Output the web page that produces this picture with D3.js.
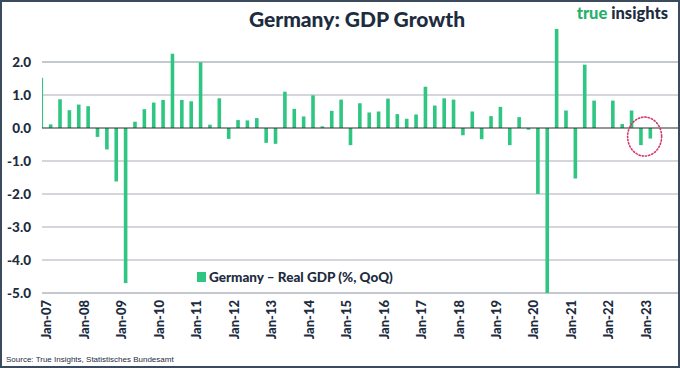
<!DOCTYPE html>
<html><head><meta charset="utf-8">
<script src="https://cdn.jsdelivr.net/npm/d3@7"></script>
<style>
html,body{margin:0;padding:0;background:#fff;}
svg{display:block;font-family:Lato,"Open Sans",sans-serif;}
</style></head>
<body>
<svg id="chart" width="680" height="368"></svg>
<script>
// ---- data ----
const quarters = [
 "2006Q4",
 "2007Q1","2007Q2","2007Q3","2007Q4","2008Q1","2008Q2","2008Q3","2008Q4",
 "2009Q1","2009Q2","2009Q3","2009Q4","2010Q1","2010Q2","2010Q3","2010Q4",
 "2011Q1","2011Q2","2011Q3","2011Q4","2012Q1","2012Q2","2012Q3","2012Q4",
 "2013Q1","2013Q2","2013Q3","2013Q4","2014Q1","2014Q2","2014Q3","2014Q4",
 "2015Q1","2015Q2","2015Q3","2015Q4","2016Q1","2016Q2","2016Q3","2016Q4",
 "2017Q1","2017Q2","2017Q3","2017Q4","2018Q1","2018Q2","2018Q3","2018Q4",
 "2019Q1","2019Q2","2019Q3","2019Q4","2020Q1","2020Q2","2020Q3","2020Q4",
 "2021Q1","2021Q2","2021Q3","2021Q4","2022Q1","2022Q2","2022Q3","2022Q4",
 "2023Q1"
];
const gdpGrowth = [
 1.52,
 0.11, 0.87, 0.54, 0.71,   0.66, -0.27, -0.65, -1.62,
 -4.70, 0.19, 0.57, 0.77,  0.85, 2.25, 0.85, 0.81,
 1.99, 0.10, 0.90, -0.33,  0.24, 0.23, 0.30, -0.45,
 -0.48, 1.10, 0.58, 0.35,  0.99, 0.05, 0.52, 0.86,
 -0.52, 0.75, 0.47, 0.50,  0.89, 0.42, 0.28, 0.41,
 1.25, 0.68, 0.90, 0.86,   -0.22, 0.50, -0.34, 0.36,
 0.64, -0.52, 0.33, -0.05, -2.00, -5.00, 3.00, 0.53,
 -1.53, 1.92, 0.83, 0.00,  0.83, 0.12, 0.53, -0.52,
 -0.32
];
const tickQuarters = ["2007Q1","2008Q1","2009Q1","2010Q1","2011Q1","2012Q1","2013Q1","2014Q1",
  "2015Q1","2016Q1","2017Q1","2018Q1","2019Q1","2020Q1","2021Q1","2022Q1","2023Q1"];
const tickLabels = ["Jan-07","Jan-08","Jan-09","Jan-10","Jan-11","Jan-12","Jan-13","Jan-14",
  "Jan-15","Jan-16","Jan-17","Jan-18","Jan-19","Jan-20","Jan-21","Jan-22","Jan-23"];
const yTicks = [2, 1, 0, -1, -2, -3, -4, -5];
const seriesName = "Germany \u2013 Real GDP (%, QoQ)";
const highlightQuarters = ["2022Q4","2023Q1"];

// ---- layout ----
const W = 680, H = 368;
const plotL = 42, plotR = 678, plotT = 29, plotB = 293;
const navy = "#1d2c3e", green = "#2fc682";

const svg = d3.select("#chart");

const x = d3.scaleBand().domain(quarters).range([36.6, 655.0]).padding(0);
const y = d3.scaleLinear().domain([-5, 3]).range([plotB, plotT]);
const bw = 3.6;

// border
svg.append("rect").attr("x",1).attr("y",1).attr("width",W-2).attr("height",H-2)
  .attr("fill","none").attr("stroke","#3b4b5d").attr("stroke-width",2);

// gridlines
const grid = svg.append("g");
grid.selectAll("line").data(yTicks.filter(d => d !== 0)).join("line")
  .attr("x1", plotL).attr("x2", plotR)
  .attr("y1", d => y(d)).attr("y2", d => y(d))
  .attr("stroke", "#c4c9cf").attr("stroke-width", d => (d === 2 || d === -5) ? 2 : 1.3);

// y labels
const yAxis = d3.axisLeft(y).tickValues(yTicks).tickSize(0).tickPadding(0)
  .tickFormat(d => d3.format(".1f")(d).replace("\u2212","-"));
const gy = svg.append("g").attr("transform", `translate(31,0)`).call(yAxis);
gy.select(".domain").remove();
gy.selectAll("text").attr("fill", navy).attr("font-size", "13.5px").attr("font-weight", 900)
  .attr("font-family","Lato, sans-serif");

// clip
svg.append("clipPath").attr("id","plotclip").append("rect")
  .attr("x", plotL).attr("y", plotT-1).attr("width", plotR-plotL).attr("height", plotB-plotT+2);

// bars
svg.append("g").attr("clip-path","url(#plotclip)")
  .selectAll("rect").data(quarters.map((q,i)=>({q, v: gdpGrowth[i]}))).join("rect")
  .attr("x", d => x(d.q) + x.bandwidth()/2 - bw/2)
  .attr("width", bw)
  .attr("y", d => y(Math.max(0, d.v)))
  .attr("height", d => Math.abs(y(d.v) - y(0)))
  .attr("fill", green);

// zero line
svg.append("line").attr("x1", plotL).attr("x2", plotR)
  .attr("y1", y(0)).attr("y2", y(0)).attr("stroke", "#2a2f35").attr("stroke-width", 1.2);

// x axis labels
const xAxis = d3.axisBottom(x).tickValues(tickQuarters).tickSize(0).tickPadding(0)
  .tickFormat(q => tickLabels[tickQuarters.indexOf(q)]);
const gx = svg.append("g").attr("transform", `translate(${-x.bandwidth()/2 + 0.6},${plotB + 5})`).call(xAxis);
gx.select(".domain").remove();
gx.selectAll("text")
  .attr("transform","rotate(-90)")
  .attr("text-anchor","end")
  .attr("x", -2).attr("y", 0).attr("dy","0.36em")
  .attr("fill", navy).attr("font-size","13px").attr("font-weight",900)
  .attr("font-family","Lato, sans-serif");

// highlight circle around the last two quarters
const hx = (x(highlightQuarters[0]) + x(highlightQuarters[1]) + x.bandwidth())/2;
svg.append("ellipse").attr("cx", hx - 1).attr("cy", y(-0.26)).attr("rx", 17).attr("ry", 19.5)
  .attr("fill","none").attr("stroke","#d8366b").attr("stroke-width",1.6)
  .attr("stroke-dasharray","1.3 2").attr("stroke-linecap","round");

// title
svg.append("text").attr("x", 357).attr("y", 27).attr("text-anchor","middle")
  .attr("font-size","21px").attr("font-weight",900).attr("fill", navy)
  .attr("font-family","Lato, sans-serif")
  .text("Germany: GDP Growth");

// logo
const logo = svg.append("text").attr("x", 668).attr("y", 19).attr("text-anchor","end")
  .attr("font-size","16.5px").attr("font-weight",900).attr("font-family","Lato, sans-serif");
logo.append("tspan").attr("fill","#27b06c").text("true ");
logo.append("tspan").attr("fill", navy).text("insights");

// legend
const lg = svg.append("g").attr("transform","translate(197,272)");
lg.append("rect").attr("width",9).attr("height",10).attr("fill",green);
lg.append("text").attr("x",12).attr("y",9.5).attr("font-size","13.5px").attr("font-weight",900)
  .attr("fill", navy).attr("font-family","Lato, sans-serif").text(seriesName);

// source
svg.append("text").attr("x", 6).attr("y", 362).attr("font-size","8px")
  .attr("fill", navy).attr("font-family","'Liberation Sans Narrow','Liberation Sans',sans-serif")
  .text("Source: True Insights, Statistisches Bundesamt");
</script>
</body></html>
